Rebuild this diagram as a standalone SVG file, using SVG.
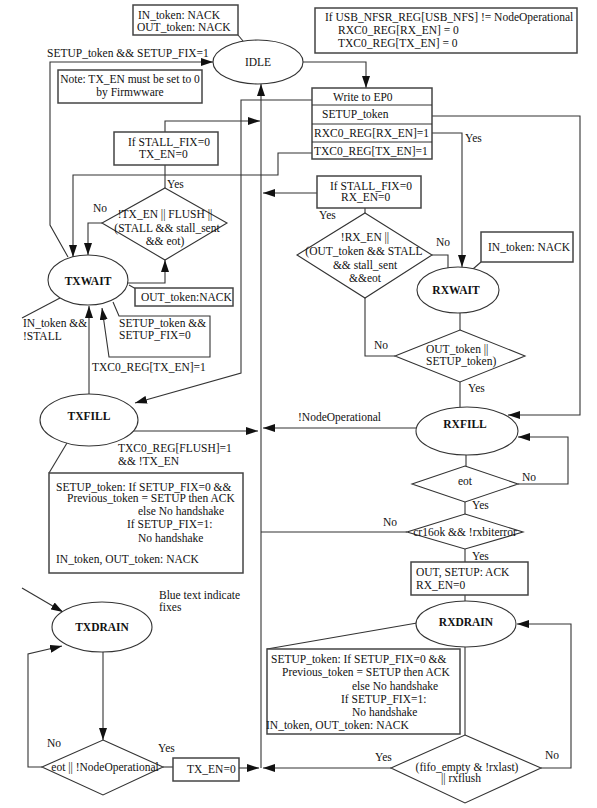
<svg xmlns="http://www.w3.org/2000/svg" width="597" height="808" viewBox="0 0 597 808">
<style>
text{font-family:"Liberation Serif","Times New Roman",serif;font-size:11.5px;fill:#111}
.c{text-anchor:middle}
.b{font-weight:bold}
.s{fill:#fff;stroke:#333;stroke-width:1.1}
.n{fill:#fff;stroke:#444;stroke-width:1.5}
.l{fill:none;stroke:#333;stroke-width:1.1}
.a{fill:none;stroke:#333;stroke-width:1.1;marker-end:url(#ah)}
</style>
<defs>
<marker id="ah" viewBox="0 0 12 8" refX="12" refY="4" markerWidth="12" markerHeight="8" markerUnits="userSpaceOnUse" orient="auto"><path d="M0,0 L12,4 L0,8 z" fill="#111"/></marker>
</defs>
<rect width="597" height="808" fill="#fff"/>

<g id="connectors">
<path class="l" d="M238,35 L243,41"/>
<path class="a" d="M303,62 H366 V88"/>
<path class="a" d="M68,257 L50,225 V62 H213"/>
<path class="a" d="M261,768 V84"/>
<path class="a" d="M312,100 H241 V373 L135,403"/>
<path class="a" d="M432,116 H580 V415 H508"/>
<path class="a" d="M432,133 H462 V267"/>
<path class="a" d="M312,153 H278 V175 H73 V257"/>
<path class="a" d="M165,132 V121 H260"/>
<path class="l" d="M165,165 V188"/>
<path class="a" d="M102,223 H88 V255"/>
<path class="a" d="M128,283 H165 V260"/>
<path class="l" d="M129,285 L136,289"/>
<path class="a" d="M113,302 L119,316 H210 V357 H109 L102,308"/>
<path class="l" d="M60,298 L22,318"/>
<path class="a" d="M89,394 V306"/>
<path class="a" d="M133,431 H258"/>
<path class="l" d="M67,443 L49,473"/>
<path class="a" d="M317,193 H263"/>
<path class="l" d="M365,208 V213"/>
<path class="l" d="M432,255 H448 V268"/>
<path class="l" d="M481,262 L473,269"/>
<path class="l" d="M460,313 V330"/>
<path class="l" d="M395,356 H365 V298"/>
<path class="l" d="M460,382 V407"/>
<path class="a" d="M417,428 H263"/>
<path class="l" d="M466,455 V466"/>
<path class="a" d="M518,484 H568 V437 H518"/>
<path class="l" d="M465,502 V514"/>
<path class="l" d="M407,532 H261"/>
<path class="l" d="M465,549 V562"/>
<path class="l" d="M465,595 V601"/>
<path class="l" d="M417,623 L267,649"/>
<path class="l" d="M465,647 V735"/>
<path class="a" d="M541,768 H571 V624 H517"/>
<path class="a" d="M391,768 H263"/>
<path class="a" d="M22,588 L63,612"/>
<path class="a" d="M103,652 V740"/>
<path class="a" d="M42,767 H28 V654 L62,646"/>
<path class="l" d="M163,767 H173"/>
<path class="a" d="M239,768 H259"/>
</g>

<g id="edge-labels">
<text x="47" y="57">SETUP_token &amp;&amp; SETUP_FIX=1</text>
<text x="465" y="142">Yes</text>
<text x="167" y="188">Yes</text>
<text x="93" y="212">No</text>
<text x="319" y="219">Yes</text>
<text x="436" y="246">No</text>
<text x="119" y="327">SETUP_token &amp;&amp;</text>
<text x="119" y="339">SETUP_FIX=0</text>
<text x="23" y="327">IN_token &amp;&amp;</text>
<text x="23" y="340">!STALL</text>
<text x="374" y="349">No</text>
<text x="92" y="371">TXC0_REG[TX_EN]=1</text>
<text x="468" y="392">Yes</text>
<text x="298" y="421">!NodeOperational</text>
<text x="118" y="452">TXC0_REG[FLUSH]=1</text>
<text x="118" y="465">&amp;&amp; !TX_EN</text>
<text x="522" y="481">No</text>
<text x="472" y="509">Yes</text>
<text x="383" y="526">No</text>
<text x="472" y="560">Yes</text>
<text x="159" y="599">Blue text indicate</text>
<text x="159" y="611">fixes</text>
<text x="47" y="747">No</text>
<text x="158" y="752">Yes</text>
<text x="375" y="761">Yes</text>
<text x="545" y="759">No</text>
</g>

<g id="note-idle"><rect class="n" x="133" y="5" width="105" height="30"/><text x="138" y="19">IN_token: NACK</text><text x="137" y="31">OUT_token: NACK</text></g>
<g id="idle"><ellipse class="s" cx="258" cy="62" rx="45" ry="22"/><text class="c" x="258" y="66">IDLE</text></g>
<g id="note-firmware"><rect class="n" x="58" y="70" width="144" height="33"/><text class="c" x="130" y="83">Note: TX_EN must be set to 0</text><text class="c" x="130" y="96">by Firmwware</text></g>
<g id="note-nfs"><rect class="n" x="315" y="8" width="262" height="45"/><text x="325" y="21">If USB_NFSR_REG[USB_NFS] != NodeOperational</text><text x="338" y="34">RXC0_REG[RX_EN] = 0</text><text x="338" y="47">TXC0_REG[TX_EN] = 0</text></g>
<g id="write-ep0"><rect class="n" x="312" y="88" width="120" height="71"/><path class="l" d="M312,105 H432 M312,124 H432 M312,142 H432"/><text x="333" y="101">Write to EP0</text><text x="322" y="118">SETUP_token</text><text x="314" y="137">RXC0_REG[RX_EN]=1</text><text x="314" y="155">TXC0_REG[TX_EN]=1</text></g>
<g id="stall-tx"><rect class="n" x="114" y="132" width="104" height="33"/><text x="128" y="146">If STALL_FIX=0</text><text x="139" y="158">TX_EN=0</text></g>
<g id="stall-rx"><rect class="n" x="317" y="176" width="104" height="32"/><text x="330" y="190">If STALL_FIX=0</text><text x="341" y="201">RX_EN=0</text></g>
<g id="dec-tx"><polygon class="s" points="165,188 227,223 165,260 102,223"/><text class="c" x="165" y="218">!TX_EN || FLUSH ||</text><text class="c" x="167" y="232">(STALL &amp;&amp; stall_sent</text><text class="c" x="165" y="245">&amp;&amp; eot)</text></g>
<g id="txwait"><ellipse class="s" cx="88" cy="280" rx="40" ry="25"/><text class="c b" x="88" y="285">TXWAIT</text></g>
<g id="note-outnack"><rect class="n" x="135" y="288" width="98" height="18"/><text x="141" y="301">OUT_token:NACK</text></g>
<g id="txfill"><ellipse class="s" cx="89" cy="420" rx="49" ry="26"/><text class="c b" x="89" y="420">TXFILL</text></g>
<g id="note-txfill"><rect class="n" x="49" y="473" width="194" height="100"/><text x="56" y="491">SETUP_token: If SETUP_FIX=0 &amp;&amp;</text><text x="67" y="502">Previous_token = SETUP then ACK</text><text x="138" y="515">else No handshake</text><text x="127" y="528">If SETUP_FIX=1:</text><text x="138" y="542">No handshake</text><text x="56" y="563">IN_token, OUT_token: NACK</text></g>
<g id="txdrain"><ellipse class="s" cx="102" cy="627" rx="50" ry="25"/><text class="c b" x="102" y="631">TXDRAIN</text></g>
<g id="dec-txdrain"><polygon class="s" points="103,740 163,767 103,795 42,767"/><text class="c" x="105" y="771">eot || !NodeOperational</text></g>
<g id="txen0"><rect class="n" x="173" y="758" width="66" height="23"/><text x="187" y="773">TX_EN=0</text></g>
<g id="dec-rx1"><polygon class="s" points="365,213 432,255 365,298 297,255"/><text class="c" x="365" y="241">!RX_EN ||</text><text class="c" x="364" y="255">(OUT_token &amp;&amp; STALL</text><text class="c" x="365" y="269">&amp;&amp; stall_sent</text><text class="c" x="365" y="282">&amp;&amp;eot</text></g>
<g id="note-innack"><rect class="n" x="481" y="232" width="92" height="30"/><text x="488" y="251">IN_token: NACK</text></g>
<g id="rxwait"><ellipse class="s" cx="458" cy="290" rx="41" ry="23"/><text class="c b" x="456" y="294">RXWAIT</text></g>
<g id="dec-rx2"><polygon class="s" points="460,330 525,356 460,382 395,356"/><text x="426" y="353">OUT_token ||</text><text x="426" y="365">SETUP_token)</text></g>
<g id="rxfill"><ellipse class="s" cx="467" cy="431" rx="51" ry="24"/><text class="c b" x="465" y="428">RXFILL</text></g>
<g id="dec-eot"><polygon class="s" points="465,466 518,484 465,502 412,484"/><text class="c" x="465" y="485">eot</text></g>
<g id="dec-crc"><polygon class="s" points="465,514 523,532 465,549 407,532"/><text class="c" x="465" y="536">cr16ok &amp;&amp; !rxbiterror</text></g>
<g id="ack-box"><rect class="n" x="411" y="562" width="117" height="33"/><text x="416" y="576">OUT, SETUP: ACK</text><text x="416" y="589">RX_EN=0</text></g>
<g id="rxdrain"><ellipse class="s" cx="466" cy="624" rx="50" ry="23"/><text class="c b" x="466" y="626">RXDRAIN</text></g>
<g id="note-rxdrain"><rect class="n" x="267" y="649" width="193" height="85"/><text x="271" y="663">SETUP_token: If SETUP_FIX=0 &amp;&amp;</text><text x="282" y="676">Previous_token = SETUP then ACK</text><text x="352" y="690">else No handshake</text><text x="341" y="703">If SETUP_FIX=1:</text><text x="352" y="716">No handshake</text><text x="266" y="729">IN_token, OUT_token: NACK</text></g>
<g id="dec-drain"><polygon class="s" points="465,735 541,768 465,803 391,768"/><text class="c" x="467" y="771">(fifo_empty &amp; !rxlast)</text><text class="c" x="461" y="782">|| rxflush</text></g>
</svg>
